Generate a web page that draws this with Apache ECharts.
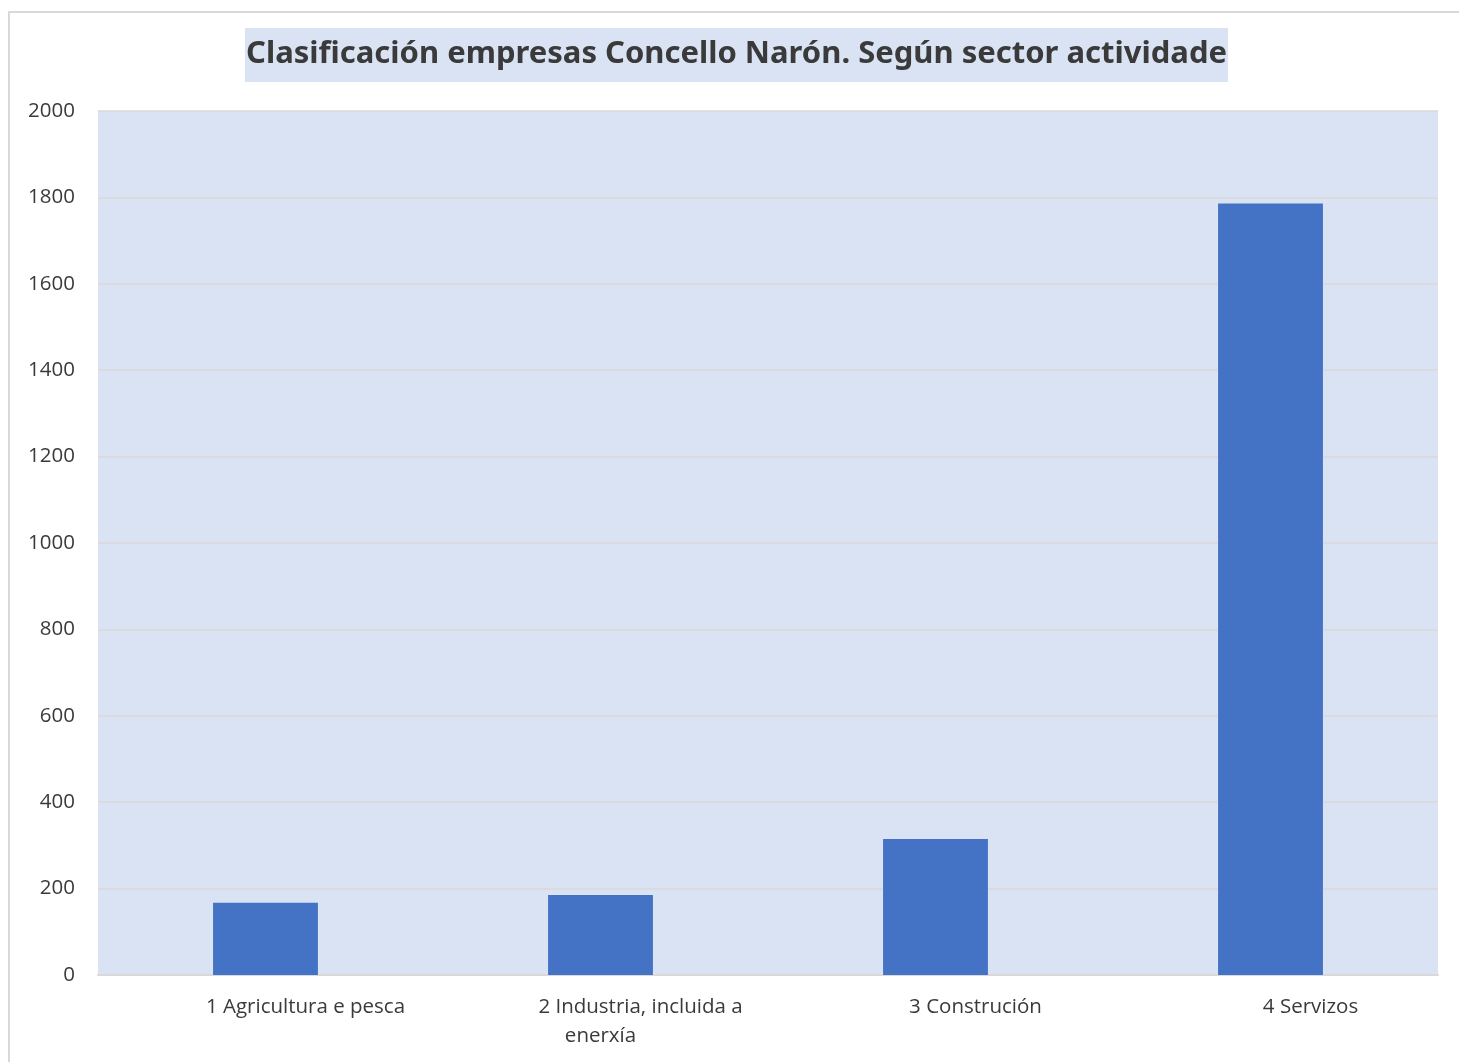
<!DOCTYPE html>
<html><head><meta charset="utf-8">
<script src="https://cdn.jsdelivr.net/npm/echarts@6/dist/echarts.min.js"></script>
<style>html,body{margin:0;padding:0;background:#fff;}#c{width:1459px;height:1062px;}</style>
</head><body><div id="c"></div>
<script>
const titleText = 'Clasificación empresas Concello Narón. Según sector actividade';
const categories = ['1 Agricultura e pesca', '2 Industria, incluida a\nenerxía', '3 Construción', '4 Servizos'];
const values = [167, 185, 315, 1786];
const yTicks = [0, 200, 400, 600, 800, 1000, 1200, 1400, 1600, 1800, 2000];

const labelFont = {fontFamily: 'Open Sans', fontSize: 20.5, color: '#3a3a3a', lineHeight: 29};
const chart = echarts.init(document.getElementById('c'));
chart.setOption({
  animation: false,
  backgroundColor: '#ffffff',
  graphic: [{
    type: 'rect', z: -10,
    shape: {x: 9, y: 12, width: 1500, height: 1100},
    style: {fill: '#ffffff', stroke: '#d9d9d9', lineWidth: 2}
  }],
  title: {
    text: titleText,
    left: 245, top: 28,
    backgroundColor: '#dae3f3',
    padding: [6, 1, 7, 1],
    textStyle: {fontFamily: 'Noto Sans', fontWeight: 'bold', fontSize: 31, color: '#3a3a3a', lineHeight: 41}
  },
  grid: {left: 98, right: 21, top: 111, bottom: 87, show: true, backgroundColor: '#dae3f3', borderWidth: 0},
  xAxis: {
    type: 'category', data: categories,
    axisLine: {lineStyle: {color: '#d9d9d9', width: 2}},
    axisTick: {show: false},
    axisLabel: Object.assign({}, labelFont, {
      margin: 18, interval: 0,
      formatter: function (v) {
        const parts = v.split('\n');
        return parts.map((p, i) => (i === 0 ? '{a|' : '{b|') + p + '}').join('\n');
      },
      rich: {
        a: Object.assign({}, labelFont, {padding: [0, 0, 0, 80]}),
        b: Object.assign({}, labelFont)
      }
    })
  },
  yAxis: {
    type: 'value', min: yTicks[0], max: yTicks[yTicks.length - 1], interval: 200,
    axisLine: {show: false}, axisTick: {show: false},
    splitLine: {lineStyle: {color: '#d9d9d9', width: 1.5}},
    axisLabel: Object.assign({}, labelFont, {margin: 23, formatter: v => String(v)})
  },
  series: [{
    type: 'bar', data: values, barWidth: '31.3%',
    itemStyle: {color: '#4472c4'}
  }]
});
</script></body></html>
